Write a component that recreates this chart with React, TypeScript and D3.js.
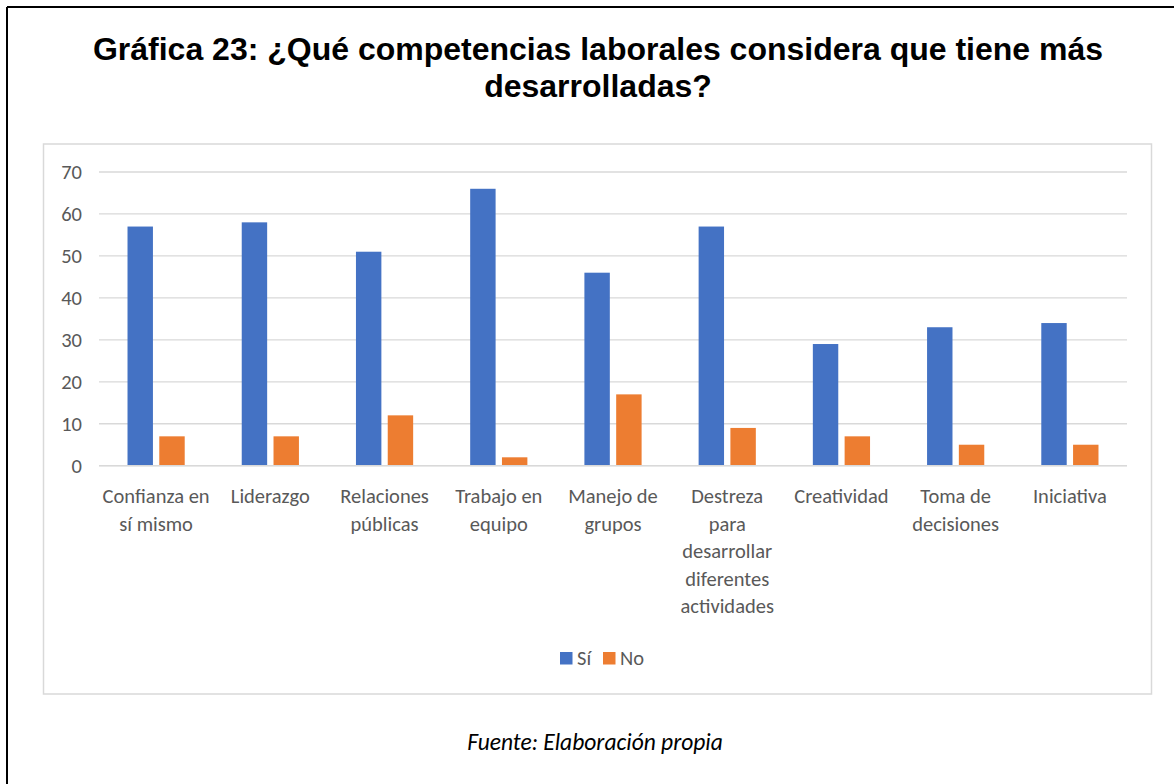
import React from "react";
import * as d3 from "d3";

const categories: string[][] = [
  ["Confianza en", "sí mismo"],
  ["Liderazgo"],
  ["Relaciones", "públicas"],
  ["Trabajo en", "equipo"],
  ["Manejo de", "grupos"],
  ["Destreza", "para", "desarrollar", "diferentes", "actividades"],
  ["Creatividad"],
  ["Toma de", "decisiones"],
  ["Iniciativa"],
];
const seriesNames = ["Sí", "No"];
const siValues = [57, 58, 51, 66, 46, 57, 29, 33, 34];
const noValues = [7, 7, 12, 2, 17, 9, 7, 5, 5];
const yTicks = [0, 10, 20, 30, 40, 50, 60, 70];
const colors = ["#4472C4", "#ED7D31"];

const W = 1174;
const H = 784;
const plotLeft = 99;
const plotRight = 1127;
const plotTop = 172;
const plotBottom = 465.7;

const labelFont = "Carlito, Calibri, Lato, sans-serif";
const labelColor = "#595959";

export default function App() {
  const catKeys = categories.map((c) => c.join(" "));
  const x0 = d3.scaleBand<string>().domain(catKeys).range([plotLeft, plotRight]).padding(0);
  const groupHalf = 28.6;
  const x1 = d3
    .scaleBand<string>()
    .domain(seriesNames)
    .range([-groupHalf, groupHalf])
    .paddingInner(0.2)
    .paddingOuter(0);
  const y = d3.scaleLinear().domain([0, 70]).range([plotBottom, plotTop]);
  const data = [siValues, noValues];

  return (
    <svg
      width={W}
      height={H}
      style={{ position: "absolute", left: 0, top: 0, background: "#fff" }}
    >
      <rect x={0} y={0} width={W} height={H} fill="#fff" />
      {/* outer black frame (top and left visible) */}
      <line x1={7} y1={7} x2={W} y2={7} stroke="#000" strokeWidth={2} />
      <line x1={7} y1={7} x2={7} y2={H} stroke="#000" strokeWidth={2} />

      {/* title */}
      <text
        x={598}
        y={60}
        textAnchor="middle"
        fontFamily="'Liberation Sans', Arial, sans-serif"
        fontWeight="bold"
        fontSize={32}
        fill="#000"
      >
        Gráfica 23: ¿Qué competencias laborales considera que tiene más
      </text>
      <text
        x={598}
        y={97}
        textAnchor="middle"
        fontFamily="'Liberation Sans', Arial, sans-serif"
        fontWeight="bold"
        fontSize={32}
        fill="#000"
      >
        desarrolladas?
      </text>

      {/* chart box */}
      <rect x={43.5} y={144} width={1108} height={550} fill="#fff" stroke="#D9D9D9" strokeWidth={1.5} />

      {/* gridlines */}
      {yTicks.map((t) => (
        <line key={t} x1={plotLeft} x2={plotRight} y1={y(t)} y2={y(t)} stroke="#D9D9D9" strokeWidth={1.3} />
      ))}
      {yTicks.map((t) => (
        <text
          key={"l" + t}
          x={82}
          y={y(t)}
          dy="0.35em"
          textAnchor="end"
          fontFamily={labelFont}
          fontSize={20.5}
          fill={labelColor}
        >
          {t}
        </text>
      ))}

      {/* bars */}
      {catKeys.map((k, i) => {
        const cx = (x0(k) as number) + x0.bandwidth() / 2;
        return (
          <g key={k}>
            {seriesNames.map((s, j) => (
              <rect
                key={s}
                x={cx + (x1(s) as number)}
                y={y(data[j][i])}
                width={x1.bandwidth()}
                height={plotBottom - y(data[j][i])}
                fill={colors[j]}
              />
            ))}
          </g>
        );
      })}

      {/* axis line */}
      <line x1={plotLeft} x2={plotRight} y1={plotBottom} y2={plotBottom} stroke="#D9D9D9" strokeWidth={1.5} />

      {/* category labels */}
      {categories.map((lines, i) => {
        const cx = (x0(catKeys[i]) as number) + x0.bandwidth() / 2;
        return (
          <text
            key={catKeys[i]}
            textAnchor="middle"
            fontFamily={labelFont}
            fontSize={20.5}
            fill={labelColor}
          >
            {lines.map((ln, li) => (
              <tspan key={li} x={cx} y={503 + li * 27.5}>
                {ln}
              </tspan>
            ))}
          </text>
        );
      })}

      {/* legend */}
      <rect x={560} y={652} width={12.5} height={12.5} fill={colors[0]} />
      <text x={577} y={665} fontFamily={labelFont} fontSize={20.5} fill={labelColor}>
        {seriesNames[0]}
      </text>
      <rect x={603} y={652} width={12.5} height={12.5} fill={colors[1]} />
      <text x={620} y={665} fontFamily={labelFont} fontSize={20.5} fill={labelColor}>
        {seriesNames[1]}
      </text>

      {/* source */}
      <text
        x={595}
        y={750}
        textAnchor="middle"
        fontFamily={labelFont}
        fontStyle="italic"
        fontSize={23.5}
        fill="#000"
      >
        Fuente: Elaboración propia
      </text>
    </svg>
  );
}
